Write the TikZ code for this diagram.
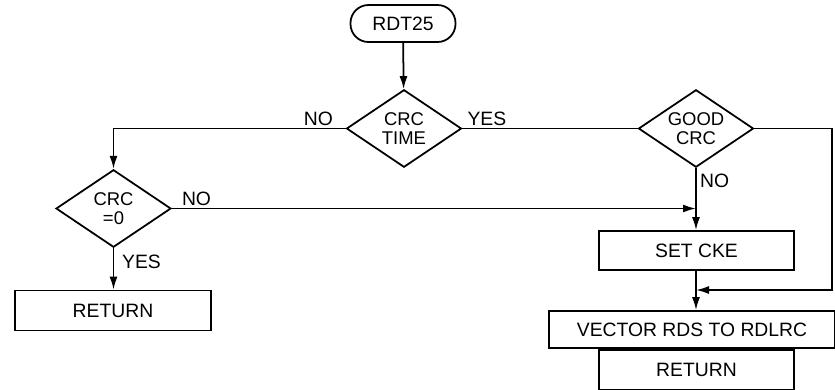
\documentclass[tikz,border=0pt]{standalone}
\usepackage{fontspec}
\setmainfont{Liberation Sans}
\usetikzlibrary{positioning,arrows.meta,shapes.geometric}

\begin{document}
\begin{tikzpicture}[line width=1pt, >={Latex[length=2.6mm,width=1.6mm]},
  txt/.style={font=\fontsize{11}{13}\selectfont},
  box/.style={draw,txt,align=center,minimum width=#1,minimum height=8mm,inner sep=0pt},
  box/.default=39mm,
  test/.style={draw,diamond,aspect=1.5,align=center,minimum width=23mm,minimum height=15.5mm,inner sep=0pt,
    font=\fontsize{10.5}{10.5}\selectfont},
  term/.style={draw,txt,rounded corners=3.6mm,minimum width=21mm,minimum height=7.4mm},
  lbl/.style={txt,inner sep=1pt}]
\useasboundingbox (0,0) rectangle (16.7,-7.78);
\node[term] (rdt) at (8.06,-0.47) {RDT25};
\node[test] (crctime) at (8.08,-2.57) {CRC\\TIME};
\node[test] (crczero) at (2.27,-4.17) {CRC\\=0};
\node[box=39.2mm] (ret1) at (2.26,-6.21) {RETURN};
\node[test] (good) at (13.92,-2.57) {GOOD\\CRC};
\node[box,minimum height=7.8mm] (setcke) at (13.93,-5.01) {SET CKE};
\node[box=57.2mm,minimum height=7.4mm] (vec) at (13.84,-6.59) {VECTOR RDS TO RDLRC};
\node[box,below=0pt of vec.south-|setcke] (ret2) {RETURN};
% connectors
\draw[->] (rdt) -- (crctime);
\draw[->] (crctime.west) -| (crczero.north);
\draw (crctime.east) -- (good.west);
\draw[->] (crczero.south) -- (ret1.north-|crczero.south);
\coordinate (jn) at (good.south|-crczero.east);
\draw[->] (crczero.east) -- (jn);
\draw[->] (good.south) -- (setcke.north-|good.south);
\coordinate (jr) at (16.64,-5.8);
\coordinate (jv) at (good.south|-jr);
\draw[->] (good.east) -| (jr) -- (jv);
\draw[->] (setcke.south-|good.south) -- (vec.north-|good.south);
% labels
\node[lbl,above left=0pt and 2mm of crctime.west] (lno1) {NO};
\node[lbl,above right=0pt and 0.5mm of crctime.east] (lyes1) {YES};
\node[lbl,above right=0pt and 1.5mm of crczero.east] (lno2) {NO};
\node[lbl,below right=0.8mm and 1.2mm of crczero.south] (lyes2) {YES};
\node[lbl,below right=0.6mm and 0.3mm of good.south] (lno3) {NO};
\end{tikzpicture}
\end{document}
